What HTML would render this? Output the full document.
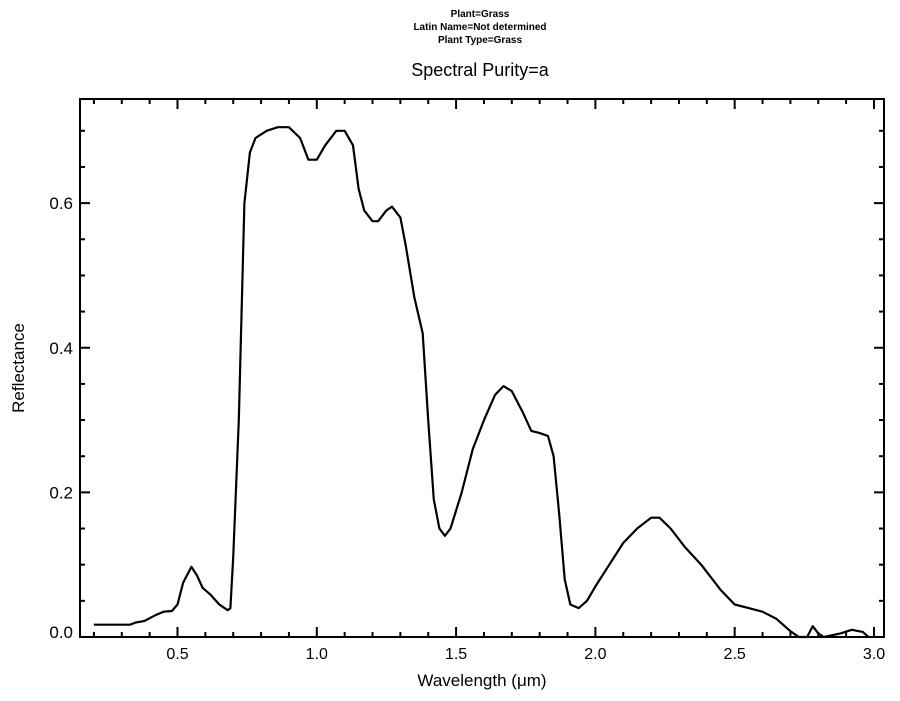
<!DOCTYPE html>
<html><head><meta charset="utf-8"><style>
body{margin:0;background:#fff;width:900px;height:696px;overflow:hidden}
svg text{font-family:"Liberation Sans",sans-serif;fill:#000}
</style></head><body>
<svg width="900" height="696">
<text x="480" y="17" font-size="10" font-weight="bold" text-anchor="middle">Plant=Grass</text>
<text x="480" y="30" font-size="10" font-weight="bold" text-anchor="middle">Latin Name=Not determined</text>
<text x="480" y="43" font-size="10" font-weight="bold" text-anchor="middle">Plant Type=Grass</text>
<text x="480" y="76" font-size="18" text-anchor="middle">Spectral Purity=a</text>
<text x="482" y="686" font-size="17" text-anchor="middle">Wavelength (μm)</text>
<text transform="translate(24,368) rotate(-90)" font-size="17" text-anchor="middle">Reflectance</text>
<g id="axes"></g>
<path id="line" fill="none" stroke="#000" stroke-width="2.2" stroke-linejoin="round"/>
</svg>
<script>
const wavelengths=[0.2,0.33,0.35,0.38,0.42,0.45,0.48,0.5,0.52,0.55,0.57,0.59,0.62,0.65,0.68,0.69,0.7,0.72,0.74,0.76,0.78,0.82,0.86,0.9,0.94,0.97,1.0,1.03,1.07,1.1,1.13,1.15,1.17,1.2,1.22,1.25,1.27,1.3,1.32,1.35,1.38,1.4,1.42,1.44,1.46,1.48,1.52,1.56,1.6,1.64,1.67,1.7,1.74,1.77,1.8,1.83,1.85,1.87,1.89,1.91,1.94,1.97,2.0,2.05,2.1,2.15,2.2,2.23,2.27,2.32,2.38,2.45,2.5,2.55,2.6,2.65,2.7,2.73,2.76,2.78,2.8,2.82,2.88,2.92,2.96,2.98];
const reflectance=[0.017,0.017,0.02,0.022,0.03,0.035,0.036,0.045,0.075,0.097,0.085,0.068,0.058,0.045,0.037,0.04,0.11,0.3,0.6,0.67,0.69,0.7,0.705,0.705,0.69,0.66,0.66,0.68,0.7,0.7,0.68,0.62,0.59,0.575,0.575,0.59,0.595,0.58,0.54,0.47,0.42,0.3,0.19,0.15,0.14,0.15,0.2,0.26,0.3,0.335,0.347,0.34,0.31,0.285,0.282,0.278,0.25,0.17,0.08,0.045,0.04,0.05,0.07,0.1,0.13,0.15,0.165,0.165,0.15,0.125,0.1,0.065,0.045,0.04,0.035,0.025,0.008,0,0,0.015,0.005,0,0.005,0.01,0.007,0];
const xTickLabels=["0.5","1.0","1.5","2.0","2.5","3.0"];
const yTickLabels=["0.0","0.2","0.4","0.6"];
const L=80,R=884,T=99,B=637,X0=0.15,X1=3.036,Y0=0,Y1=0.744;
const sx=v=>L+(v-X0)/(X1-X0)*(R-L);
const sy=v=>B-(v-Y0)/(Y1-Y0)*(B-T);
const NS="http://www.w3.org/2000/svg";
const ax=document.getElementById('axes');
function mk(tag,attrs){const e=document.createElementNS(NS,tag);for(const k in attrs)e.setAttribute(k,attrs[k]);ax.appendChild(e);return e;}
const frame=mk('rect',{x:L,y:T,width:R-L,height:B-T,fill:'none',stroke:'#000','stroke-width':2});


for(let i=2;i<=30;i++){const v=i/10,x=sx(v),maj=i%5===0,len=maj?10:5;
 const t1=mk('line',{x1:x,x2:x,y1:B,y2:B-len,stroke:'#000','stroke-width':2});
 
 
 const t2=mk('line',{x1:x,x2:x,y1:T,y2:T+len,stroke:'#000','stroke-width':2});
 
 }
xTickLabels.forEach(s=>{const t=mk('text',{x:sx(+s),y:659,'font-size':16,'text-anchor':'middle'});t.textContent=s;
 
 });
for(let i=0;i<=14;i++){const v=i*0.05,y=sy(v),maj=i%4===0,len=maj?10:5;
 const t1=mk('line',{x1:L,x2:L+len,y1:y,y2:y,stroke:'#000','stroke-width':2});
 
 
 const t2=mk('line',{x1:R,x2:R-len,y1:y,y2:y,stroke:'#000','stroke-width':2});
 
 }
yTickLabels.forEach(s=>{const t=mk('text',{x:73,y:sy(+s)+(+s===0?1:6),'font-size':17,'text-anchor':'end'});t.textContent=s;
 
 });
document.getElementById('line').setAttribute('d',wavelengths.map((w,i)=>(i?'L':'M')+sx(w).toFixed(1)+','+sy(reflectance[i]).toFixed(1)).join(''));
</script>
</body></html>
